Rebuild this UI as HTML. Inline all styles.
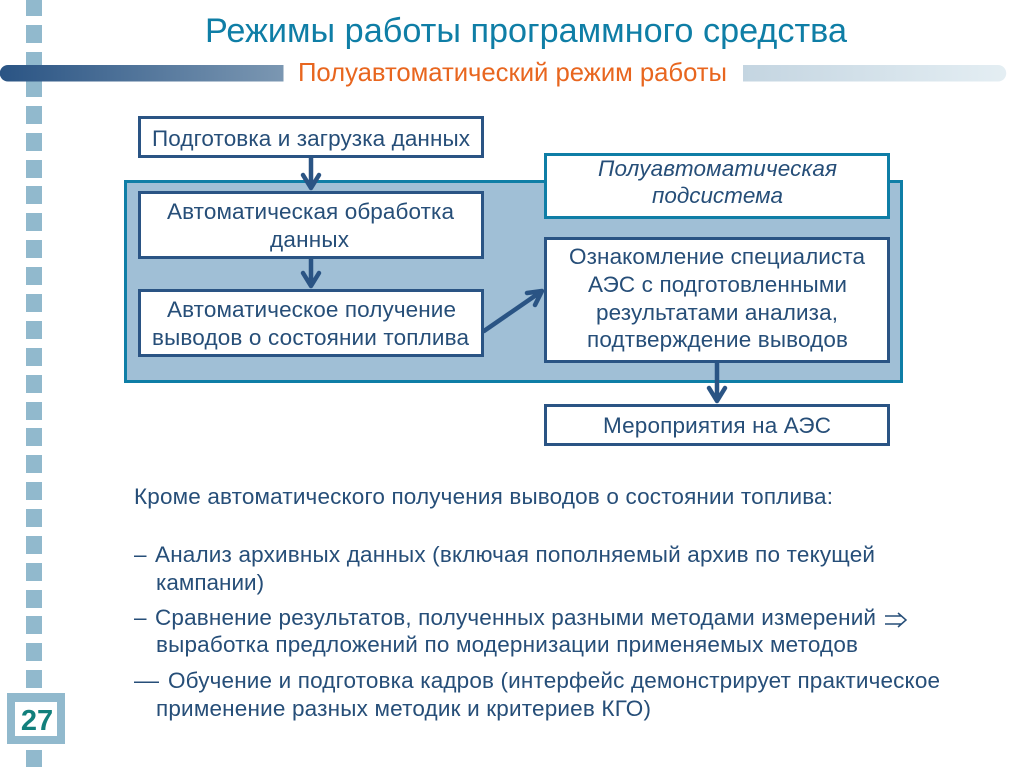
<!DOCTYPE html>
<html><head><meta charset="utf-8"><style>
html,body{margin:0;padding:0;background:#fff;width:1024px;height:767px;overflow:hidden}
svg{display:block}
text{font-family:"Liberation Sans",sans-serif}
.b{fill:#264e78;font-size:22.500px}
.i{fill:#264e78;font-size:22.500px;font-style:italic}
.l{fill:none;stroke:#2a5484;stroke-width:4.500;stroke-linecap:round;stroke-linejoin:round}
.w{fill:#fff;stroke:#2a5484;stroke-width:3}
</style></head><body>
<svg width="1024" height="767" viewBox="0 0 1024 767" xmlns="http://www.w3.org/2000/svg">
<defs>
<linearGradient id="g1" x1="0" x2="1" y1="0" y2="0"><stop offset="0" stop-color="#2a5484"/><stop offset="1" stop-color="#7b97b2"/></linearGradient>
<linearGradient id="g2" x1="0" x2="1" y1="0" y2="0"><stop offset="0" stop-color="#c4d5e1"/><stop offset="1" stop-color="#e4eef3"/></linearGradient>
</defs>
<g fill="#91b9cd">
<rect x="26" y="-2" width="16" height="18"/><rect x="26" y="25" width="16" height="18"/><rect x="26" y="52" width="16" height="18"/><rect x="26" y="79" width="16" height="18"/><rect x="26" y="106" width="16" height="18"/><rect x="26" y="133" width="16" height="18"/><rect x="26" y="160" width="16" height="18"/><rect x="26" y="186" width="16" height="18"/><rect x="26" y="213" width="16" height="18"/><rect x="26" y="240" width="16" height="18"/><rect x="26" y="267" width="16" height="18"/><rect x="26" y="294" width="16" height="18"/><rect x="26" y="321" width="16" height="18"/><rect x="26" y="348" width="16" height="18"/><rect x="26" y="375" width="16" height="18"/><rect x="26" y="402" width="16" height="18"/><rect x="26" y="428" width="16" height="18"/><rect x="26" y="455" width="16" height="18"/><rect x="26" y="482" width="16" height="18"/><rect x="26" y="509" width="16" height="18"/><rect x="26" y="536" width="16" height="18"/><rect x="26" y="563" width="16" height="18"/><rect x="26" y="590" width="16" height="18"/><rect x="26" y="616" width="16" height="18"/><rect x="26" y="643" width="16" height="18"/><rect x="26" y="670" width="16" height="18"/><rect x="26" y="750" width="16" height="18"/>
</g>
<path d="M283.500 65H8a8 8 0 0 0 0 16.500H283.500Z" fill="url(#g1)"/>
<path d="M743 65H998a8.200 8.200 0 0 1 0 16.500H743Z" fill="url(#g2)"/>
<text x="205" y="42" font-size="34.200" fill="#0f7ea6" textLength="642">Режимы работы программного средства</text>
<text x="298" y="81" font-size="25.700" fill="#e8661f" textLength="429">Полуавтоматический режим работы</text>

<rect x="125.500" y="181.500" width="776" height="200" fill="#a0bfd6" stroke="#0f7ea6" stroke-width="3"/>
<rect x="545.500" y="154.500" width="343" height="63" fill="#fff" stroke="#0f7ea6" stroke-width="3"/>

<rect class="w" x="139.500" y="117.500" width="343" height="39"/>
<rect class="w" x="139.500" y="192.500" width="343" height="65"/>
<rect class="w" x="139.500" y="290.500" width="343" height="65"/>
<rect class="w" x="545.500" y="238.500" width="343" height="123"/>
<rect class="w" x="545.500" y="405.500" width="343" height="39"/>

<path class="l" d="M311 158V188M303 175L311 188L319 175"/>
<path class="l" d="M311 259V286M303 273L311 286L319 273"/>
<path class="l" d="M484 331L542 291M527 293L542 291L535 305"/>
<path class="l" d="M717 363V401M709 388L717 401L725 388"/>

<text class="b" x="152" y="146" textLength="318">Подготовка и загрузка данных</text>
<text class="b" x="167" y="219" textLength="287">Автоматическая обработка</text>
<text class="b" x="270" y="247" textLength="79">данных</text>
<text class="b" x="167" y="317" textLength="289">Автоматическое получение</text>
<text class="b" x="152" y="345" textLength="317">выводов о состоянии топлива</text>
<text class="i" x="598" y="176" textLength="239">Полуавтоматическая</text>
<text class="i" x="652" y="203" textLength="131">подсистема</text>
<text class="b" x="569" y="264" textLength="296">Ознакомление специалиста</text>
<text class="b" x="588" y="292" textLength="259">АЭС с подготовленными</text>
<text class="b" x="596" y="320" textLength="242">результатами анализа,</text>
<text class="b" x="587" y="347" textLength="261">подтверждение выводов</text>
<text class="b" x="603" y="433" textLength="228">Мероприятия на АЭС</text>

<text class="b" x="134" y="504" textLength="699">Кроме автоматического получения выводов о состоянии топлива:</text>
<text class="b" x="134" y="562">–</text>
<text class="b" x="155" y="562" textLength="720">Анализ архивных данных (включая пополняемый архив по текущей</text>
<text class="b" x="156" y="590">кампании)</text>
<text class="b" x="134" y="625">–</text>
<text class="b" x="155" y="625" textLength="721">Сравнение результатов, полученных разными методами измерений</text>
<text class="b" x="156" y="652" textLength="702">выработка предложений по модернизации применяемых методов</text>
<text class="b" x="134" y="688">––</text>
<text class="b" x="168" y="688" textLength="772">Обучение и подготовка кадров (интерфейс демонстрирует практическое</text>
<text class="b" x="156" y="716" textLength="495">применение разных методик и критериев КГО)</text>
<path d="M885 616H902M885 624H902M898 613L906 620L898 627" fill="none" stroke="#264e78" stroke-width="1.500"/>

<rect x="7" y="693" width="58" height="51" fill="#91b9cd"/>
<rect x="15" y="702" width="42" height="34" fill="#fff"/>
<text x="37" y="730" text-anchor="middle" font-size="29" font-weight="bold" fill="#117f7c">27</text>
</svg>
</body></html>
